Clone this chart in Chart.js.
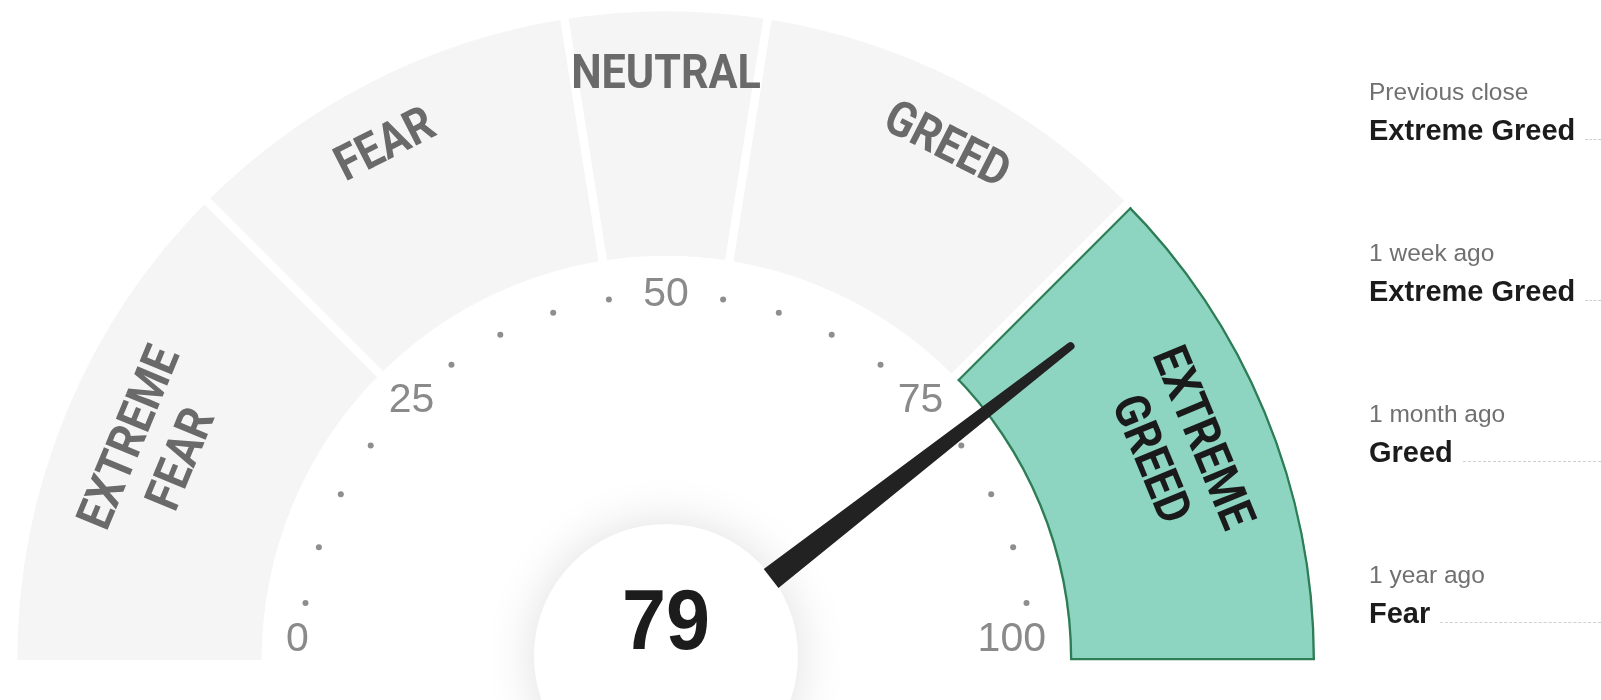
<!DOCTYPE html>
<html>
<head>
<meta charset="utf-8">
<script src="https://cdn.jsdelivr.net/npm/chart.js@4.4.1/dist/chart.umd.min.js"></script>
<style>
html,body{margin:0;padding:0;background:#fff;width:1601px;height:700px;overflow:hidden;}
#wrap{position:relative;width:1601px;height:700px;}
#c{position:absolute;left:0;top:0;}
#hist{position:absolute;left:1369px;top:0;width:232px;height:700px;font-family:"Liberation Sans",Arial,sans-serif;}
.item{position:absolute;left:0;width:232px;}
.lbl{font-size:24.5px;color:#707070;line-height:28px;white-space:nowrap;}
.row{display:flex;align-items:baseline;white-space:nowrap;margin-top:8px;}
.rating{font-size:29px;font-weight:bold;color:#1c1c1c;line-height:32px;}
.dash{flex:1;border-bottom:1px dashed #d0d0d0;margin-left:10px;min-width:0;}
</style>
</head>
<body>
<div id="wrap">
<canvas id="c" width="1601" height="700"></canvas>
<div id="hist"></div>
</div>
<script>
// ---- data ----
const bandLabels = [['EXTREME', 'FEAR'], ['FEAR'], ['NEUTRAL'], ['GREED'], ['EXTREME', 'GREED']];
const bandSizes = [25, 20, 10, 20, 25];
const bandColors = ['#f5f5f5', '#f5f5f5', '#f5f5f5', '#f5f5f5', '#8dd5c1'];
const activeBand = 4;
const indexValue = 79;
const tickLabels = [0, 25, 50, 75, 100];
const minorTicks = [5, 10, 15, 20, 30, 35, 40, 45, 55, 60, 65, 70, 80, 85, 90, 95];
const historyLabels = ['Previous close', '1 week ago', '1 month ago', '1 year ago'];
const historyRatings = ['Extreme Greed', 'Extreme Greed', 'Greed', 'Fear'];

// ---- history panel (HTML text) ----
const hist = document.getElementById('hist');
historyLabels.forEach((l, i) => {
  const it = document.createElement('div');
  it.className = 'item';
  it.style.top = (78 + i * 161) + 'px';
  it.innerHTML = '<div class="lbl"></div><div class="row"><span class="rating"></span><span class="dash"></span></div>';
  it.querySelector('.lbl').textContent = l;
  it.querySelector('.rating').textContent = historyRatings[i];
  hist.appendChild(it);
});

const total = bandSizes.reduce((a, b) => a + b, 0);
const activeBorder = '#2e7d56';

const gaugePlugin = {
  id: 'gauge',
  afterDatasetsDraw(chart) {
    const ctx = chart.ctx;
    const meta = chart.getDatasetMeta(0);
    const arcs = meta.data;
    const cx = arcs[0].x, cy = arcs[0].y;
    const rOut = arcs[0].outerRadius, rIn = arcs[0].innerRadius;
    const a0 = arcs[0].startAngle, a1 = arcs[arcs.length - 1].endAngle;
    const ang = v => a0 + (v / total) * (a1 - a0);

    // separators between bands (gap lies inside the highlighted band when adjacent)
    for (let i = 0; i < arcs.length - 1; i++) {
      const b = arcs[i].endAngle;
      let dir = 0;
      if (i + 1 === activeBand) dir = 1;
      if (i === activeBand) dir = -1;
      const shift = 3.5 * dir;
      const tx = -Math.sin(b), ty = Math.cos(b);
      ctx.save();
      ctx.strokeStyle = '#ffffff';
      ctx.lineWidth = dir ? 9 : 8.5;
      ctx.lineCap = 'butt';
      ctx.beginPath();
      ctx.moveTo(cx + (rIn - 3) * Math.cos(b) + tx * shift, cy + (rIn - 3) * Math.sin(b) + ty * shift);
      ctx.lineTo(cx + (rOut + 3) * Math.cos(b) + tx * shift, cy + (rOut + 3) * Math.sin(b) + ty * shift);
      ctx.stroke();
      if (dir !== 0) {
        const s2 = 9 * dir;
        ctx.strokeStyle = activeBorder;
        ctx.lineWidth = 2;
        ctx.beginPath();
        ctx.moveTo(cx + rIn * Math.cos(b) + tx * s2, cy + rIn * Math.sin(b) + ty * s2);
        ctx.lineTo(cx + rOut * Math.cos(b) + tx * s2, cy + rOut * Math.sin(b) + ty * s2);
        ctx.stroke();
      }
      ctx.restore();
    }

    // band labels
    let acc = 0;
    bandLabels.forEach((lines, i) => {
      const mid = acc + bandSizes[i] / 2;
      acc += bandSizes[i];
      const a = ang(mid);
      const n = lines.length;
      // single-line labels sit slightly away from the top centre
      const tShift = n === 1 ? (mid - total / 2) * 1.1 : 0;
      const tx = -Math.sin(a), ty = Math.cos(a);
      ctx.save();
      ctx.fillStyle = i === activeBand ? '#1a1a1a' : '#6a6a6a';
      ctx.font = 'bold 49px Roboto, "Liberation Sans", sans-serif';
      ctx.textAlign = 'center';
      ctx.textBaseline = 'middle';
      lines.forEach((t, k) => {
        const r = rOut - 65 - (n - 1) * 6 - k * 56;
        ctx.save();
        ctx.translate(cx + r * Math.cos(a) + tx * tShift, cy + r * Math.sin(a) + ty * tShift);
        ctx.rotate(a + Math.PI / 2);
        ctx.scale(0.88, 1);
        ctx.fillText(t, 0, 0);
        ctx.restore();
      });
      ctx.restore();
    });

    // minor tick dots
    const rTick = 365;
    ctx.save();
    ctx.fillStyle = '#8e8e8e';
    minorTicks.forEach(v => {
      const a = ang(v);
      ctx.beginPath();
      ctx.arc(cx + rTick * Math.cos(a), cy + rTick * Math.sin(a), 3, 0, Math.PI * 2);
      ctx.fill();
    });
    // tick labels
    const rNum = 360;
    ctx.font = '41px "Liberation Sans", Arial, sans-serif';
    ctx.fillStyle = '#8a8a8a';
    ctx.textBaseline = 'middle';
    tickLabels.forEach(v => {
      const a = ang(v);
      const c = Math.cos(a);
      if (Math.abs(c) > 0.99) {
        ctx.textAlign = c < 0 ? 'left' : 'right';
        ctx.fillText(String(v), cx + 380 * c, cy - 20);
      } else {
        ctx.textAlign = 'center';
        ctx.fillText(String(v), cx + rNum * c, cy + rNum * Math.sin(a) - 5);
      }
    });
    ctx.restore();

    // center circle with glow
    ctx.save();
    ctx.shadowColor = 'rgba(0,0,0,0.13)';
    ctx.shadowBlur = 50;
    ctx.fillStyle = '#ffffff';
    ctx.beginPath();
    ctx.arc(cx, cy - 4, 132, 0, Math.PI * 2);
    ctx.fill();
    ctx.restore();

    // needle
    const an = ang(indexValue);
    const ux = Math.cos(an), uy = Math.sin(an);
    const nx = -uy, ny = ux;
    const r0 = 133, r1 = 512, w0 = 12, w1 = 4;
    ctx.save();
    ctx.fillStyle = '#222222';
    ctx.beginPath();
    ctx.moveTo(cx + r0 * ux + w0 * nx, cy + r0 * uy + w0 * ny);
    ctx.lineTo(cx + r1 * ux + w1 * nx, cy + r1 * uy + w1 * ny);
    ctx.arc(cx + r1 * ux, cy + r1 * uy, w1, an + Math.PI / 2, an - Math.PI / 2, true);
    ctx.lineTo(cx + r0 * ux - w0 * nx, cy + r0 * uy - w0 * ny);
    ctx.closePath();
    ctx.fill();
    ctx.restore();

    // value
    ctx.save();
    ctx.fillStyle = '#1c1c1c';
    ctx.font = 'bold 86px "Liberation Sans", Arial, sans-serif';
    ctx.textAlign = 'center';
    ctx.textBaseline = 'middle';
    ctx.translate(cx, cy - 35);
    ctx.scale(0.92, 1);
    ctx.fillText(String(indexValue), 0, 0);
    ctx.restore();
  }
};

new Chart(document.getElementById('c'), {
  type: 'doughnut',
  data: {
    labels: bandLabels.map(l => l.join(' ')),
    datasets: [{
      data: bandSizes,
      backgroundColor: bandColors,
      borderColor: bandColors.map((c, i) => i === activeBand ? activeBorder : c),
      borderWidth: bandColors.map((c, i) => i === activeBand ? 2 : 0),
      borderAlign: 'inner',
      hoverOffset: 0
    }]
  },
  options: {
    responsive: false,
    animation: false,
    events: [],
    rotation: -90,
    circumference: 180,
    radius: 649,
    cutout: '62.25%',
    layout: { padding: { left: 17, right: 286, top: 10, bottom: 39 } },
    plugins: { legend: { display: false }, tooltip: { enabled: false } }
  },
  plugins: [gaugePlugin]
});
</script>
</body>
</html>
